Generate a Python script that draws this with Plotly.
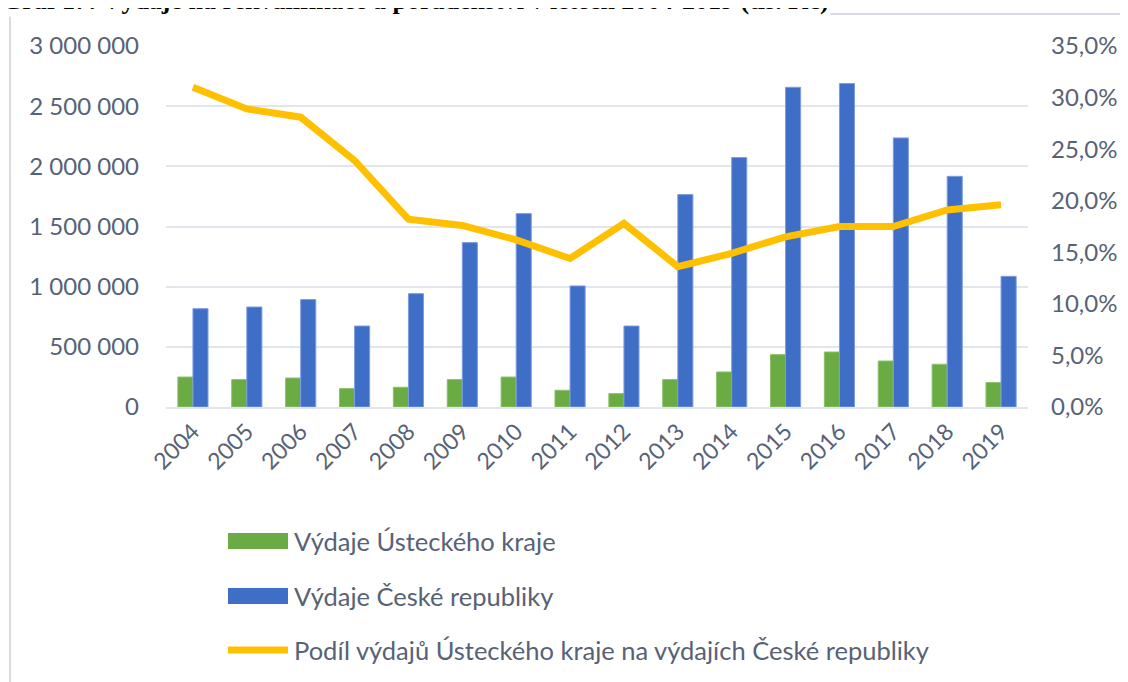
import plotly.graph_objects as go

years = [str(y) for y in range(2004, 2020)]
vydaje_kraj = [249000, 228000, 241000, 153000, 164000, 228000, 249000, 139000,
               111000, 228000, 291000, 435000, 457000, 382000, 355000, 203000]
vydaje_cr = [817000, 831000, 893000, 673000, 942000, 1366000, 1607000, 1006000,
             673000, 1765000, 2073000, 2657000, 2688000, 2236000, 1917000, 1086000]
podil = [0.310, 0.289, 0.281, 0.239, 0.182, 0.176, 0.162, 0.144,
         0.178, 0.136, 0.149, 0.165, 0.175, 0.175, 0.191, 0.196]

left_ticks = [0, 500000, 1000000, 1500000, 2000000, 2500000, 3000000]
right_ticks = [0, 0.05, 0.10, 0.15, 0.20, 0.25, 0.30, 0.35]

legend_names = ["Výdaje Ústeckého kraje", "Výdaje České republiky",
                "Podíl výdajů Ústeckého kraje na výdajích České republiky"]
title_text = "Graf 17: Výdaje na rekvalifikace a poradenství v letech 2004-2019 (tis. Kč)"

GREEN = "#6aab44"
BLUE = "#3f6ec6"
YELLOW = "#ffc000"
TEXT = "#586276"
GRID = "#e1e5ec"
FONT = "Lato, Arial, sans-serif"

# the page body adds an 8px margin, so the figure is drawn 8px smaller
OFF = 8
W, H = 1128 - OFF, 682 - OFF
L, R, T, B = 166 - OFF, 1028 - OFF, 46 - OFF, 407 - OFF


def px_x(p):  # page pixel -> paper
    return (p - OFF - L) / (R - L)


def px_y(p):
    return (B - (p - OFF)) / (B - T)


fig = go.Figure()
fig.add_trace(go.Bar(x=years, y=vydaje_kraj, name=legend_names[0],
                     marker=dict(color=GREEN, line=dict(color="#8cc06c", width=1))))
fig.add_trace(go.Bar(x=years, y=vydaje_cr, name=legend_names[1],
                     marker=dict(color=BLUE, line=dict(color="#7c9de0", width=1))))
fig.add_trace(go.Scatter(x=years, y=podil, name=legend_names[2], yaxis="y2",
                         mode="lines", line=dict(color=YELLOW, width=7)))

fig.update_layout(
    width=W, height=H,
    margin=dict(l=L, r=W - R, t=T, b=H - B),
    paper_bgcolor="white", plot_bgcolor="white",
    separators=", ",
    barmode="group", bargap=0.44, bargroupgap=0,
    showlegend=False,
    font=dict(family=FONT, color=TEXT, size=23),
    xaxis=dict(tickangle=-45, showgrid=False, showline=True, linecolor=GRID,
               linewidth=2, ticks="", tickfont=dict(size=23)),
    yaxis=dict(range=[0, 3000000], tickvals=left_ticks, tickformat=",d",
               gridcolor=GRID, gridwidth=1.5, zeroline=False, showline=False,
               ticklabelstandoff=26, tickfont=dict(size=24)),
    yaxis2=dict(range=[0, 0.35], tickvals=right_ticks, tickformat=".1%",
                overlaying="y", side="right", showgrid=False, zeroline=False,
                ticklabelstandoff=22, tickfont=dict(size=24)),
)

# chart frame and the caption, cut off at the top as in the original
fig.add_shape(type="rect", xref="paper", yref="paper",
              x0=px_x(10), x1=px_x(1140), y0=px_y(14), y1=px_y(700),
              line=dict(color="#d7dce4", width=2), fillcolor="rgba(0,0,0,0)", layer="below")
fig.add_annotation(text="<b>" + title_text + "</b>", xref="paper", yref="paper",
                   x=px_x(0), y=px_y(17), xanchor="left", yanchor="bottom", showarrow=False,
                   bgcolor="white",
                   font=dict(family="Liberation Serif", size=26, color="black"))

# legend drawn by hand (wide swatches like the original)
rows = [541, 596, 650]
fig.add_shape(type="rect", xref="paper", yref="paper", x0=px_x(228), x1=px_x(288),
              y0=px_y(rows[0] - 8), y1=px_y(rows[0] + 8), fillcolor=GREEN, line=dict(width=0))
fig.add_shape(type="rect", xref="paper", yref="paper", x0=px_x(228), x1=px_x(288),
              y0=px_y(rows[1] - 8), y1=px_y(rows[1] + 8), fillcolor=BLUE, line=dict(width=0))
fig.add_shape(type="line", xref="paper", yref="paper", x0=px_x(228), x1=px_x(288),
              y0=px_y(rows[2]), y1=px_y(rows[2]), line=dict(color=YELLOW, width=7))
for name, r in zip(legend_names, rows):
    fig.add_annotation(text=name, xref="paper", yref="paper", x=px_x(292), y=px_y(r),
                       xanchor="left", yanchor="middle", showarrow=False,
                       font=dict(size=25.5, color=TEXT))

fig.write_html("out.html")
